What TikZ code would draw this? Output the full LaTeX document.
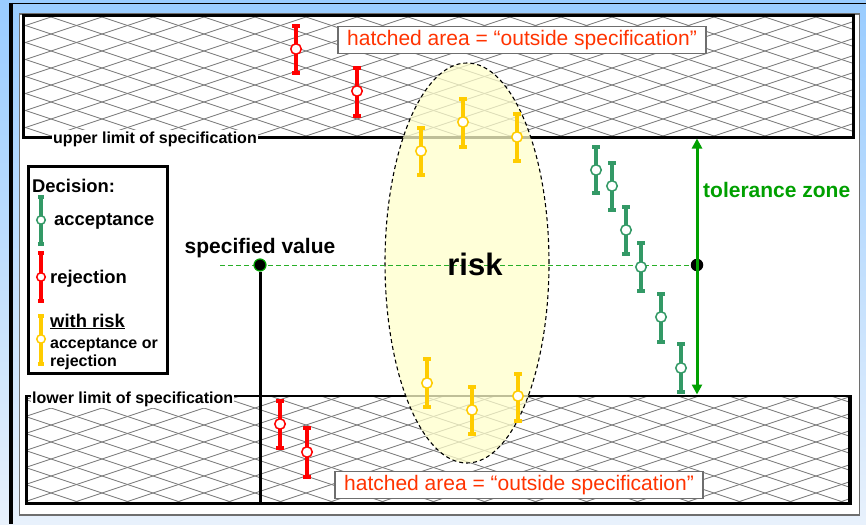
\documentclass[tikz,border=0pt]{standalone}
\usepackage{fontspec}
\setmainfont{Liberation Sans}
\usetikzlibrary{shapes.geometric,arrows.meta}
\definecolor{accgreen}{RGB}{51,153,102}
\definecolor{rejred}{RGB}{255,0,0}
\definecolor{riskyellow}{RGB}{255,204,0}
\definecolor{tolgreen}{RGB}{0,160,0}
\definecolor{dashgreen}{RGB}{40,175,40}
\definecolor{labelred}{RGB}{255,51,0}
\definecolor{riskfill}{RGB}{255,255,204}
\definecolor{hatchgray}{RGB}{125,125,125}
\definecolor{bgtop}{RGB}{153,204,255}
\definecolor{bgbot}{RGB}{232,241,252}
\definecolor{panelgray}{RGB}{110,110,110}
\newcommand{\errbarx}[9]{%
  \coordinate (#1-t) at (#2,#3);
  \coordinate (#1-b) at (#2,#5);
  \draw[#6, line width=#9] (#1-t) -- (#1-b);
  \draw[#6, line width=#9] ([xshift=-#7]#1-t) -- ([xshift=#7]#1-t);
  \draw[#6, line width=#9] ([xshift=-#7]#1-b) -- ([xshift=#7]#1-b);
  \node[circle, draw=#6, fill=white, line width=1.5pt, inner sep=0pt, minimum size=#8] (#1) at (#2,#4) {};
}
\newcommand{\mainbar}[6]{\errbarx{#1}{#2}{#3}{#4}{#5}{#6}{4pt}{10.5pt}{3.6pt}}
\newcommand{\legbar}[6]{\errbarx{#1}{#2}{#3}{#4}{#5}{#6}{3.2pt}{8.5pt}{3.2pt}}
\tikzset{
  hatchline/.style={hatchgray, line width=0.9pt},
  limlabel/.style={fill=white, inner xsep=1pt, inner ysep=1.5pt, font=\bfseries\fontsize{16}{18}\selectfont},
  hatchlabel/.style={draw=panelgray, fill=white, line width=1.2pt, text=labelred, inner xsep=4pt, minimum height=26pt, minimum width=368pt, font=\fontsize{21}{24}\selectfont},
  bigtxt/.style={inner sep=0pt, font=\bfseries\fontsize{21}{24}\selectfont},
  legtxt/.style={inner sep=0pt, anchor=base west, font=\bfseries\fontsize{18.4}{21}\selectfont},
  legsmall/.style={inner sep=0pt, anchor=base west, font=\bfseries\fontsize{16}{18}\selectfont},
}
\begin{document}
\begin{tikzpicture}[x=1pt,y=-1pt]
\useasboundingbox (0,0) rectangle (866,524);
% background
\shade[top color=bgtop, bottom color=bgbot] (0,0) rectangle (866,524);
\draw[line width=1.2pt] (9,3.5) -- (866,3.5);
\draw[line width=4.5pt] (11,3) -- (11,524);
\draw[panelgray, fill=white, line width=1.2pt] (19.5,14) rectangle (859.5,515);
% hatching
\begin{scope}
  \clip (23,15) rectangle (854,137) (26,396) rectangle (851,504);
  \foreach \k in {-22,...,50} {
    \draw[hatchline] (0,\k*17) -- (900,\k*17+300);
    \draw[hatchline] (0,\k*17) -- (900,\k*17-300);
  }
\end{scope}
% box borders
\draw[line width=3.5pt] (23.5,137) -- (23.5,15.5) -- (853.5,15.5) -- (853.5,137);
\draw[line width=3pt] (22,137) -- (855,137);
\draw[line width=2.5pt] (25,396) -- (851.5,396);
\draw[line width=3.5pt] (26.5,396) -- (26.5,503.5) -- (850,503.5) -- (850,396);
% limit labels
\node[limlabel, anchor=base west] (ulim) at (52,143.5) {upper limit of specification};
\node[limlabel, anchor=base west] (llim) at (31,403) {lower limit of specification};
% hatched area labels
\node[hatchlabel] (hatchup) at (522,40) {hatched area = “outside specification”};
\node[hatchlabel] (hatchlow) at (519,485) {hatched area = “outside specification”};
% risk ellipse
\node[ellipse, draw, dash pattern=on 4pt off 3pt, line width=1.1pt, fill=riskfill, fill opacity=0.75, minimum width=164pt, minimum height=400pt, inner sep=0pt] (riskzone) at (467,263) {};
% specified value line
\coordinate (gstart) at (220,265);
\node[circle, fill=black, inner sep=0pt, minimum size=12.5pt] (tol) at (697,265) {};
\draw[dashgreen, line width=1pt, dash pattern=on 5pt off 3pt] (gstart) -- (tol);
\node[bigtxt, font=\bfseries\fontsize{31}{34}\selectfont, anchor=base] (risktxt) at (475,275) {risk};
\coordinate (specfoot) at (260,503);
\node[circle, fill=black, draw=tolgreen, line width=1.2pt, inner sep=0pt, minimum size=12pt] (spec) at (260,265) {};
\draw[line width=3pt] (spec) -- (specfoot);
\node[bigtxt, anchor=base] (spectxt) at (260,253) {specified value};
% tolerance zone
\coordinate (tzt) at (697,138.5);
\coordinate (tzb) at (697,394.5);
\draw[tolgreen, line width=3pt, {Triangle[length=10pt,width=10pt]}-{Triangle[length=10pt,width=10pt]}] (tzt) -- (tzb);
\node[bigtxt, text=tolgreen, anchor=base west] (toltxt) at (703,197) {tolerance zone};
% measurement bars
\mainbar{r1}{296}{26}{49}{73}{rejred}
\mainbar{r2}{357}{68}{91}{116}{rejred}
\mainbar{y1}{421}{128}{151}{175}{riskyellow}
\mainbar{y2}{463}{99}{122}{147}{riskyellow}
\mainbar{y3}{517}{114}{137}{161}{riskyellow}
\mainbar{g1}{596}{147}{170}{193}{accgreen}
\mainbar{g2}{612}{163}{186}{210}{accgreen}
\mainbar{g3}{626}{207}{230}{254}{accgreen}
\mainbar{g4}{641}{243}{267}{291}{accgreen}
\mainbar{g5}{661}{294}{317}{342}{accgreen}
\mainbar{g6}{681}{344}{368}{392}{accgreen}
\mainbar{y4}{427}{359}{383}{407}{riskyellow}
\mainbar{y5}{472}{387}{410}{434}{riskyellow}
\mainbar{y6}{518}{374}{396}{421}{riskyellow}
\mainbar{r3}{280}{401}{424}{448}{rejred}
\mainbar{r4}{307}{428}{452}{477}{rejred}
% legend
\node[draw, line width=2.5pt, fill=white, anchor=north west, minimum width=139pt, minimum height=207pt, inner sep=0pt] (legend) at (27,165) {};
\node[legtxt] (legtitle) at (32,192) {Decision:};
\legbar{lg}{41}{197}{220}{244}{accgreen}
\node[legtxt] (legacc) at (54,225) {acceptance};
\legbar{lr}{41}{253}{277}{301}{rejred}
\node[legtxt] (legrej) at (50,283) {rejection};
\legbar{ly}{41}{316}{339}{364}{riskyellow}
\node[legtxt] (legrisk) at (50,327) {\underline{with risk}};
\node[legsmall] (legor) at (50,348) {acceptance or};
\node[legsmall] (legrej2) at (50,366) {rejection};
\end{tikzpicture}
\end{document}
